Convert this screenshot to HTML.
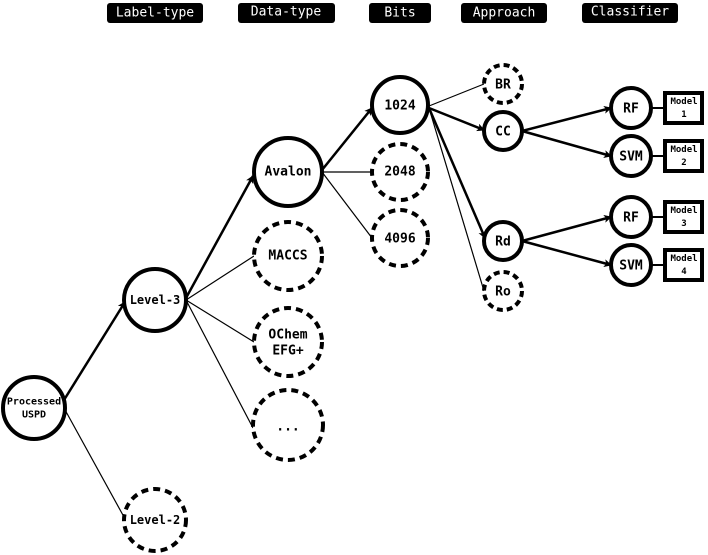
<!DOCTYPE html>
<html><head><meta charset="utf-8"><style>
html,body{margin:0;padding:0;background:#fff;}
svg{display:block;}
text{font-family:"DejaVu Sans Mono","Liberation Mono",monospace;font-weight:bold;text-anchor:middle;dominant-baseline:central;fill:#000;}
.h{font-weight:normal;fill:#fff;font-size:13px;}
</style></head><body>
<svg width="708" height="555" viewBox="0 0 708 555" xmlns="http://www.w3.org/2000/svg">
<defs>
<marker id="a" markerWidth="8" markerHeight="8" refX="7" refY="4" orient="auto" markerUnits="userSpaceOnUse"><path d="M0,0 L8,4 L0,8 L2,4 z" fill="#000"/></marker>
</defs>
<g>
<rect x="107" y="3" width="96" height="20" rx="3" fill="#000"/><text class="h" x="155" y="13">Label-type</text>
<rect x="238" y="3" width="97" height="20" rx="3" fill="#000"/><text class="h" x="286" y="12">Data-type</text>
<rect x="369" y="3" width="62" height="20" rx="3" fill="#000"/><text class="h" x="400" y="13">Bits</text>
<rect x="461" y="3" width="86" height="20" rx="3" fill="#000"/><text class="h" x="504" y="13">Approach</text>
<rect x="582" y="3" width="96" height="20" rx="3" fill="#000"/><text class="h" x="630" y="12">Classifier</text>
</g>
<g stroke="#000" fill="none">
<!-- thick arrows -->
<g stroke-width="2.5" marker-end="url(#a)">
<line x1="64" y1="400" x2="125" y2="302"/>
<line x1="186" y1="298" x2="253" y2="176"/>
<line x1="322" y1="170" x2="372" y2="108"/>
<line x1="429" y1="108" x2="484" y2="130"/>
<line x1="429" y1="108" x2="485" y2="238"/>
<line x1="522" y1="131" x2="611" y2="108"/>
<line x1="522" y1="131" x2="611" y2="156"/>
<line x1="522" y1="241" x2="611" y2="217"/>
<line x1="522" y1="241" x2="611" y2="265"/>
</g>
<g stroke-width="1.2">
<line x1="64" y1="408" x2="124" y2="517"/>
<line x1="186" y1="300" x2="254" y2="256"/>
<line x1="186" y1="300" x2="254" y2="342"/>
<line x1="186" y1="300" x2="253" y2="428"/>
<line x1="322" y1="172" x2="372" y2="172"/>
<line x1="322" y1="172" x2="372" y2="238"/>
<line x1="429" y1="106" x2="484" y2="84"/>
<line x1="429" y1="108" x2="484" y2="291"/>
</g>
<g stroke-width="2">
<line x1="651" y1="108" x2="665" y2="108"/>
<line x1="651" y1="156" x2="665" y2="156"/>
<line x1="651" y1="217" x2="665" y2="217"/>
<line x1="651" y1="265" x2="665" y2="265"/>
</g>
<!-- solid nodes -->
<g stroke-width="4" fill="#fff">
<circle cx="34" cy="408" r="31"/>
<circle cx="155" cy="300" r="31"/>
<circle cx="288" cy="172" r="34"/>
<circle cx="400" cy="105" r="28"/>
<circle cx="503" cy="131" r="19"/>
<circle cx="503" cy="241" r="19"/>
<circle cx="631" cy="108" r="20"/>
<circle cx="631" cy="156" r="20"/>
<circle cx="631" cy="217" r="20"/>
<circle cx="631" cy="265" r="20"/>
<rect x="665" y="93" width="37" height="30"/>
<rect x="665" y="141" width="37" height="30"/>
<rect x="665" y="202" width="37" height="30"/>
<rect x="665" y="250" width="37" height="30"/>
</g>
<g stroke-width="4" fill="#fff" stroke-dasharray="7,5">
<circle cx="155" cy="520" r="31"/>
<circle cx="288" cy="256" r="34"/>
<circle cx="288" cy="342" r="34"/>
<circle cx="288" cy="425" r="35"/>
<circle cx="400" cy="172" r="28"/>
<circle cx="400" cy="238" r="28"/>
<circle cx="503" cy="84" r="19" stroke-dasharray="6,4"/>
<circle cx="503" cy="291" r="19" stroke-dasharray="6,4"/>
</g>
</g>
<g font-size="13">
<text x="34" y="402" font-size="10">Processed</text>
<text x="34" y="415" font-size="10">USPD</text>
<text x="155" y="300" font-size="12">Level-3</text>
<text x="155" y="520" font-size="12">Level-2</text>
<text x="288" y="172">Avalon</text>
<text x="288" y="256">MACCS</text>
<text x="288" y="335">OChem</text>
<text x="288" y="351">EFG+</text>
<text x="288" y="427" font-weight="normal">...</text>
<text x="400" y="106">1024</text>
<text x="400" y="172">2048</text>
<text x="400" y="239">4096</text>
<text x="503" y="85">BR</text>
<text x="503" y="132">CC</text>
<text x="503" y="242">Rd</text>
<text x="503" y="292">Ro</text>
<text x="631" y="109">RF</text>
<text x="631" y="157">SVM</text>
<text x="631" y="218">RF</text>
<text x="631" y="266">SVM</text>
<g font-size="9">
<text x="684" y="102">Model</text><text x="684" y="115">1</text>
<text x="684" y="150">Model</text><text x="684" y="163">2</text>
<text x="684" y="211">Model</text><text x="684" y="224">3</text>
<text x="684" y="259">Model</text><text x="684" y="272">4</text>
</g>
</g>
</svg>
</body></html>
